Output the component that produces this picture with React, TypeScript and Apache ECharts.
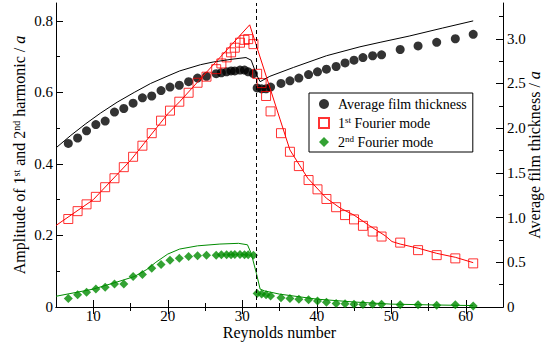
import React, { useEffect, useRef } from 'react';
import * as echarts from 'echarts';

const FONT = 'Liberation Serif';

// Reynolds numbers of the measured points (shared by the three marker series)
const reMarkers = [
  6.65, 7.9, 9.1, 10.35, 11.6, 12.85, 14.1, 15.35, 16.6, 17.85, 19.1, 20.3, 21.55, 22.8, 24.0, 25.2,
  26.5, 27.2, 27.9, 28.5, 29.0, 29.7, 30.3, 30.8, 31.5,
  32.0, 32.6, 33.2, 33.8, 35.2, 36.4, 37.6, 38.9, 40.1, 41.3, 42.6, 43.8, 45.0, 46.2, 47.5, 48.7,
  51.2, 53.6, 56.1, 58.6, 61.0,
];
// average film thickness / a (right axis)
const thicknessMarkers = [
  1.83, 1.89, 1.97, 2.04, 2.08, 2.18, 2.22, 2.28, 2.34, 2.36, 2.42, 2.46, 2.48, 2.52, 2.56, 2.58,
  2.61, 2.62, 2.63, 2.64, 2.64, 2.65, 2.65, 2.63, 2.61,
  2.45, 2.44, 2.44, 2.46, 2.5, 2.53, 2.56, 2.6, 2.63, 2.66, 2.69, 2.73, 2.76, 2.79, 2.81, 2.82,
  2.88, 2.92, 2.96, 3.0, 3.05,
];
// amplitude of 1st Fourier mode / a (left axis)
const mode1Markers = [
  0.246, 0.268, 0.287, 0.308, 0.335, 0.36, 0.391, 0.42, 0.451, 0.486, 0.521, 0.549, 0.574, 0.599, 0.627, 0.644,
  0.665, 0.681, 0.698, 0.712, 0.725, 0.739, 0.747, 0.749, 0.735,
  0.652, 0.626, 0.59, 0.547, 0.486, 0.434, 0.394, 0.355, 0.329, 0.302, 0.279, 0.257, 0.245, 0.227, 0.211, 0.197,
  0.18, 0.159, 0.145, 0.136, 0.122,
];
// amplitude of 2nd Fourier mode / a (left axis)
const mode2Markers = [
  0.024, 0.034, 0.041, 0.05, 0.055, 0.064, 0.064, 0.085, 0.091, 0.108, 0.119, 0.131, 0.136, 0.141, 0.143, 0.145,
  0.145, 0.146, 0.146, 0.146, 0.147, 0.147, 0.146, 0.146, 0.145,
  0.038, 0.036, 0.034, 0.031, 0.026, 0.024, 0.022, 0.02, 0.017, 0.013, 0.01, 0.009, 0.008, 0.007, 0.008, 0.008,
  0.006, 0.006, 0.005, 0.006, 0.003,
];

// model curves
const thicknessLineRe = [5, 7, 9, 11, 13.2, 15.5, 17.7, 19.9, 21.6, 24.4, 26.1, 28.5, 30.5, 31.2, 31.9, 32.4, 33.7, 36.9, 41.3, 45.8, 48.5, 52.4, 56.9, 61];
const thicknessLine = [1.78, 1.92, 2.05, 2.17, 2.29, 2.4, 2.5, 2.58, 2.64, 2.71, 2.74, 2.77, 2.79, 2.76, 2.6, 2.52, 2.58, 2.68, 2.81, 2.91, 2.96, 3.03, 3.12, 3.2];
const mode1LineRe = [5, 10, 15, 20, 21.6, 31.0, 35.1, 36.4, 38.8, 41.3, 43.2, 45.0, 47.1, 49.2, 50.1, 51.2, 53.7, 56.1, 58.6, 61.0];
const mode1Line = [0.228, 0.3, 0.41, 0.54, 0.574, 0.789, 0.523, 0.439, 0.36, 0.304, 0.276, 0.257, 0.227, 0.199, 0.183, 0.176, 0.164, 0.15, 0.139, 0.124];
const mode2LineRe = [5, 10, 13.2, 15.5, 17.2, 18.4, 20, 21.6, 24, 27, 29.5, 30.7, 31.2, 31.9, 32.4, 33, 35, 40, 45, 50, 55, 61];
const mode2Line = [0.03, 0.05, 0.07, 0.085, 0.105, 0.125, 0.148, 0.162, 0.171, 0.176, 0.178, 0.174, 0.15, 0.094, 0.05, 0.045, 0.036, 0.022, 0.014, 0.008, 0.006, 0.004];

const transitionRe = 31.85;

const xMajorTicks = [10, 20, 30, 40, 50, 60];
const xMinorTicks = [15, 25, 35, 45, 55];
const leftMajorTicks = [0.2, 0.4, 0.6, 0.8];
const leftLabels = [0, 0.2, 0.4, 0.6, 0.8];
const leftMinorTicks = [0.1, 0.3, 0.5, 0.7];
const rightMajorTicks = [0.5, 1, 1.5, 2, 2.5, 3];
const rightLabels = [0, 0.5, 1, 1.5, 2, 2.5, 3];
const rightMinorTicks = [0.25, 0.75, 1.25, 1.75, 2.25, 2.75, 3.25];

const pair = (xs: number[], ys: number[]) => xs.map((x, i) => [x, ys[i]]);
const fmt = (v: number) => (v === 0 ? '0' : v.toFixed(1));

const richTitle = {
  t: { fontSize: 16, fontFamily: FONT, color: '#000' },
  s: { fontSize: 10, fontFamily: FONT, color: '#000', verticalAlign: 'top' },
  i: { fontSize: 16, fontFamily: FONT, color: '#000', fontStyle: 'italic' },
};

export default function App() {
  const ref = useRef<HTMLDivElement>(null);
  useEffect(() => {
    if (!ref.current) return;
    const chart = echarts.init(ref.current, undefined, { renderer: 'svg' });
    const X_MIN = 5, X_MAX = 65, L_MAX = 0.85, R_MAX = 3.4;
    const black = '#000';
    const tickAxis = (extra: any) => ({
      type: 'value',
      splitLine: { show: false },
      ...extra,
    });
    const option: any = {
      animation: false,
      backgroundColor: '#fff',
      textStyle: { fontFamily: FONT, color: black },
      grid: { left: 56, right: 52, top: 3, bottom: 40, containLabel: false, outerBoundsMode: 'none' },
      legend: {
        data: ['Average film thickness', '1st Fourier mode', '2nd Fourier mode'],
        orient: 'vertical',
        left: 309,
        top: 93,
        backgroundColor: '#fff',
        borderColor: '#000',
        borderWidth: 1,
        borderRadius: 0,
        padding: [3, 6, 2, 9],
        itemWidth: 10,
        itemHeight: 10,
        itemGap: 3,
        selectedMode: false,
        formatter: (name: string) => {
          if (name === '1st Fourier mode') return '1{s|st} Fourier mode';
          if (name === '2nd Fourier mode') return '2{s|nd} Fourier mode';
          return name;
        },
        textStyle: {
          fontFamily: FONT,
          fontSize: 14,
          color: '#000',
          lineHeight: 16,
          padding: [0, 0, 0, 4],
          rich: { s: { fontSize: 9, fontFamily: FONT, color: '#000', verticalAlign: 'top', lineHeight: 10 } },
        },
      },
      xAxis: [
        tickAxis({
          min: X_MIN, max: X_MAX, position: 'bottom',
          axisLine: { show: true, lineStyle: { color: black, width: 1 } },
          axisTick: { show: true, inside: true, length: 7, customValues: xMajorTicks, lineStyle: { color: black } },
          axisLabel: { customValues: xMajorTicks, fontFamily: FONT, fontSize: 15, color: black, margin: 1 },
          name: 'Reynolds number', nameLocation: 'middle', nameGap: 17, nameMoveOverlap: false,
          nameTextStyle: { fontFamily: FONT, fontSize: 16, color: black },
        }),
        tickAxis({
          min: X_MIN, max: X_MAX, position: 'bottom',
          axisLine: { show: false },
          axisTick: { show: true, inside: true, length: 4, customValues: xMinorTicks, lineStyle: { color: black } },
          axisLabel: { show: false },
        }),
        tickAxis({
          min: X_MIN, max: X_MAX, position: 'top',
          axisLine: { show: true, lineStyle: { color: black, width: 1 } },
          axisTick: { show: true, inside: true, length: 7, customValues: xMajorTicks, lineStyle: { color: black } },
          axisLabel: { show: false },
        }),
        tickAxis({
          min: X_MIN, max: X_MAX, position: 'top',
          axisLine: { show: false },
          axisTick: { show: true, inside: true, length: 4, customValues: xMinorTicks, lineStyle: { color: black } },
          axisLabel: { show: false },
        }),
      ],
      yAxis: [
        tickAxis({
          min: 0, max: L_MAX, position: 'left',
          axisLine: { show: true, lineStyle: { color: black, width: 1 } },
          axisTick: { show: true, inside: true, length: 7, customValues: leftMajorTicks, lineStyle: { color: black } },
          axisLabel: { customValues: leftLabels, formatter: fmt, fontFamily: FONT, fontSize: 15, color: black, margin: 3 },
          name: '{t|Amplitude of 1}{s|st}{t| and 2}{s|nd}{t| harmonic / }{i|a}',
          nameLocation: 'middle', nameGap: 29, nameMoveOverlap: false,
          nameTextStyle: { fontFamily: FONT, fontSize: 16, color: black, rich: richTitle },
        }),
        tickAxis({
          min: 0, max: L_MAX, position: 'left',
          axisLine: { show: false },
          axisTick: { show: true, inside: true, length: 4, customValues: leftMinorTicks, lineStyle: { color: black } },
          axisLabel: { show: false },
        }),
        tickAxis({
          min: 0, max: R_MAX, position: 'right',
          axisLine: { show: true, lineStyle: { color: black, width: 1 } },
          axisTick: { show: true, inside: true, length: 7, customValues: rightMajorTicks, lineStyle: { color: black } },
          axisLabel: { customValues: rightLabels, formatter: fmt, fontFamily: FONT, fontSize: 15, color: black, margin: 4 },
          name: '{t|Average film thickness / }{i|a}',
          nameLocation: 'middle', nameGap: 23, nameMoveOverlap: false,
          nameTextStyle: { fontFamily: FONT, fontSize: 16, color: black, rich: richTitle },
        }),
        tickAxis({
          min: 0, max: R_MAX, position: 'right',
          axisLine: { show: false },
          axisTick: { show: true, inside: true, length: 4, customValues: rightMinorTicks, lineStyle: { color: black } },
          axisLabel: { show: false },
        }),
      ],
      series: [
        {
          name: 'thickness model', type: 'line', xAxisIndex: 0, yAxisIndex: 2,
          data: pair(thicknessLineRe, thicknessLine), showSymbol: false, silent: true,
          lineStyle: { color: black, width: 1 },
        },
        {
          name: 'Average film thickness', type: 'scatter', xAxisIndex: 0, yAxisIndex: 2,
          data: pair(reMarkers, thicknessMarkers), symbol: 'circle', symbolSize: 9,
          itemStyle: { color: black },
        },
        {
          name: 'mode1 model', type: 'line', xAxisIndex: 0, yAxisIndex: 0,
          data: pair(mode1LineRe, mode1Line), showSymbol: false, silent: true,
          lineStyle: { color: '#ff0000', width: 1 },
          markLine: {
            symbol: 'none', silent: true, label: { show: false },
            lineStyle: { color: black, width: 1, type: [4, 3] },
            data: [{ xAxis: transitionRe }],
          },
        },
        {
          name: '1st Fourier mode', type: 'scatter', xAxisIndex: 0, yAxisIndex: 0,
          data: pair(reMarkers, mode1Markers), symbol: 'rect', symbolSize: 9,
          itemStyle: { color: 'rgba(255,255,255,0)', borderColor: '#ff0000', borderWidth: 1 },
        },
        {
          name: 'mode2 model', type: 'line', xAxisIndex: 0, yAxisIndex: 0,
          data: pair(mode2LineRe, mode2Line), showSymbol: false, silent: true,
          lineStyle: { color: '#008b00', width: 1 },
        },
        {
          name: '2nd Fourier mode', type: 'scatter', xAxisIndex: 0, yAxisIndex: 0,
          data: pair(reMarkers, mode2Markers), symbol: 'diamond', symbolSize: 9,
          itemStyle: { color: '#008b00' },
        },
      ],
    };
    chart.setOption(option);
    return () => chart.dispose();
  }, []);
  return (
    <div
      ref={ref}
      style={{ position: 'fixed', left: 0, top: 0, width: 555, height: 347, background: '#fff' }}
    />
  );
}
